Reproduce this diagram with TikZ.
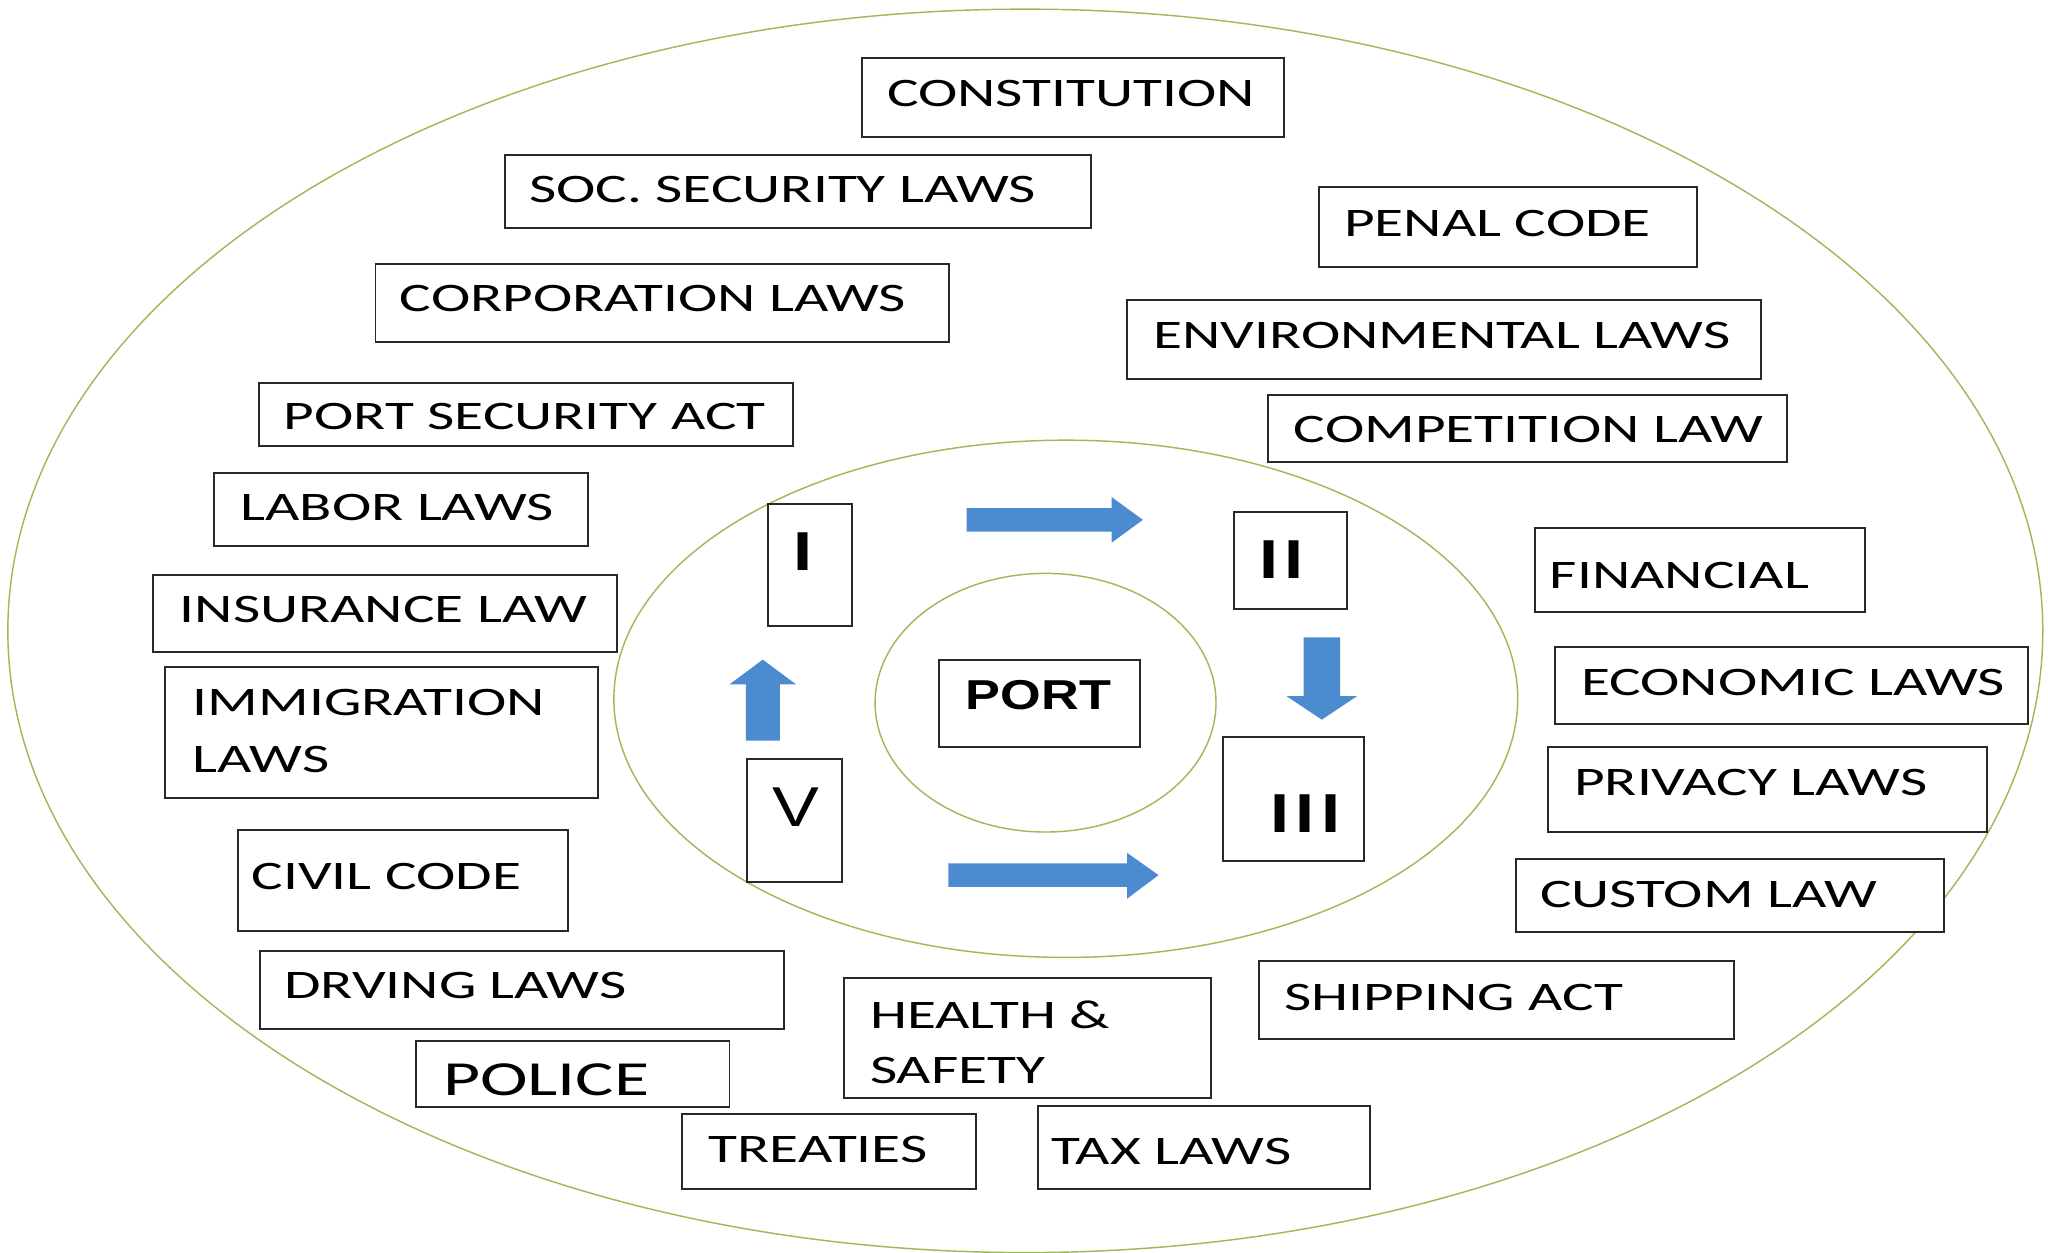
\documentclass[tikz,border=0pt]{standalone}
\usepackage{fontspec}
\setmainfont{Carlito}[FakeStretch=1.465]
\newfontfamily\numfont{Liberation Sans}[FakeStretch=1.25]
\definecolor{ringgreen}{RGB}{155,187,89}
\definecolor{arrowblue}{RGB}{76,139,208}
\definecolor{boxline}{RGB}{40,40,40}
\newcommand\mybox[5]{%
  \pgfmathsetmacro\bw{#4-#2}\pgfmathsetmacro\bh{#5-#3}%
  \node[lawbox, minimum width=\bw pt, minimum height=\bh pt] (#1) at ({(#2+#4)/2},{(#3+#5)/2}) {};}
\begin{document}
\begin{tikzpicture}[x=1pt,y=-1pt,
  lawbox/.style={draw=boxline, line width=1.5pt, fill=white, inner sep=0pt, rectangle},
  ring/.style={draw=ringgreen, line width=1.1pt},
  lawtext/.style={anchor=base west, inner sep=0pt, font=\fontsize{31}{37}\selectfont},
  numtext/.style={anchor=base, inner sep=0pt, font=\numfont\bfseries\fontsize{42}{48}\selectfont},
  blockarrow/.style={fill=arrowblue}]
\useasboundingbox (0,0) rectangle (1568,959.3);
\fill[white] (0,0) rectangle (1568,959.3);
% rings
\draw[ring] (785,483) ellipse [x radius=779pt, y radius=476pt];
\draw[ring] (816,535) ellipse [x radius=346pt, y radius=198pt];
\draw[ring] (800.5,538) ellipse [x radius=130.5pt, y radius=99pt];
% outer boxes
\mybox{cons}{660}{44.7}{983}{104.6}
\node[lawtext] (tcons) at (679,81.7) {CONSTITUTION};
\mybox{soc}{386.5}{118.7}{835}{174.8}
\node[lawtext] (tsoc) at (405,155.2) {SOC. SECURITY LAWS};
\mybox{penal}{1009.5}{143.4}{1299}{204.7}
\node[lawtext] (tpenal) at (1029,181.2) {PENAL CODE};
\mybox{corp}{287.5}{202}{726.5}{262}
\node[lawtext] (tcorp) at (306,238.6) {CORPORATION LAWS};
\mybox{env}{863}{230}{1348}{290}
\node[lawtext] (tenv) at (883,266.7) {ENVIRONMENTAL LAWS};
\mybox{portsec}{198}{293.5}{607}{341.5}
\node[lawtext] (tportsec) at (217,328.5) {PORT SECURITY ACT};
\mybox{comp}{970.5}{302.5}{1368}{353.5}
\node[lawtext] (tcomp) at (990.5,339) {COMPETITION LAW};
\mybox{labor}{164}{362}{450}{418}
\node[lawtext] (tlabor) at (184,398.7) {LABOR LAWS};
\mybox{ins}{117.5}{440}{472.5}{499.5}
\node[lawtext] (tins) at (137.5,476.5) {INSURANCE LAW};
\mybox{immig}{126.5}{511}{457.5}{611}
\node[lawtext] (timmig) at (147.5,548) {\vtop{\baselineskip=43.4pt\hbox{IMMIGRATION}\hbox{LAWS}}};
\mybox{civil}{182.5}{635.5}{435}{712.9}
\node[lawtext] (tcivil) at (192.5,680.7) {CIVIL CODE};
\mybox{drv}{199}{728}{600}{788}
\node[lawtext] (tdrv) at (217.5,764.4) {DRVING LAWS};
\mybox{police}{318.5}{796.9}{558.5}{847.4}
\node[lawtext, font=\fontsize{37.5}{44}\selectfont] (tpolice) at (339,838.5) {POLICE};
\mybox{treaties}{522.5}{853}{747.5}{910.4}
\node[lawtext] (ttreaties) at (542.5,890) {TREATIES};
\mybox{health}{646.5}{748.6}{927.5}{841}
\node[lawtext] (thealth) at (666,787.4) {\vtop{\baselineskip=42.1pt\hbox{HEALTH \&}\hbox{SAFETY}}};
\mybox{tax}{795}{846.6}{1049}{910.4}
\node[lawtext] (ttax) at (805,891.3) {TAX LAWS};
\mybox{ship}{964}{735.6}{1327.5}{795.3}
\node[lawtext] (tship) at (983,773.4) {SHIPPING ACT};
\mybox{custom}{1160.5}{657.7}{1488}{713.4}
\node[lawtext] (tcustom) at (1179,695) {CUSTOM LAW};
\mybox{privacy}{1185}{572.2}{1521.5}{637.3}
\node[lawtext] (tprivacy) at (1205,608.7) {PRIVACY LAWS};
\mybox{econ}{1190.5}{495}{1553}{554}
\node[lawtext] (tecon) at (1210.5,532.7) {ECONOMIC LAWS};
\mybox{fin}{1175.5}{404.5}{1428}{468.4}
\node[lawtext] (tfin) at (1186.5,450.5) {FINANCIAL};
% inner boxes
\mybox{port}{719}{505}{873}{572}
\node[anchor=base, inner sep=0pt, font=\numfont\bfseries\fontsize{32}{38}\selectfont] (tport) at (795,543) {PORT};
\mybox{b1}{588}{386}{652}{479}
\node[numtext] (t1) at (615,437) {I};
\mybox{b2}{945}{392}{1031}{466}
\node[numtext] (t2) at (981,443) {I\kern5pt I};
\mybox{b3}{936}{564}{1044}{659}
\node[numtext] (t3) at (999.5,637) {I\kern5pt I\kern5pt I};
\mybox{b5}{572}{581}{645}{675}
\node[numtext, font=\numfont\fontsize{43}{48}\selectfont] (t5) at (609,633) {V};
% block arrows
\fill[blockarrow] (740,389) -- (851,389) -- (851,380.5) -- (875,398) -- (851,415.5) -- (851,407) -- (740,407) -- cycle;
\fill[blockarrow] (998,488) -- (1026,488) -- (1026,533) -- (1039,533) -- (1012,551) -- (985,533) -- (998,533) -- cycle;
\fill[blockarrow] (571,567) -- (597,567) -- (597,524) -- (609.5,524) -- (584,505) -- (558.5,524) -- (571,524) -- cycle;
\fill[blockarrow] (726,661) -- (863,661) -- (863,653) -- (887,670) -- (863,688) -- (863,679) -- (726,679) -- cycle;
\end{tikzpicture}
\end{document}
